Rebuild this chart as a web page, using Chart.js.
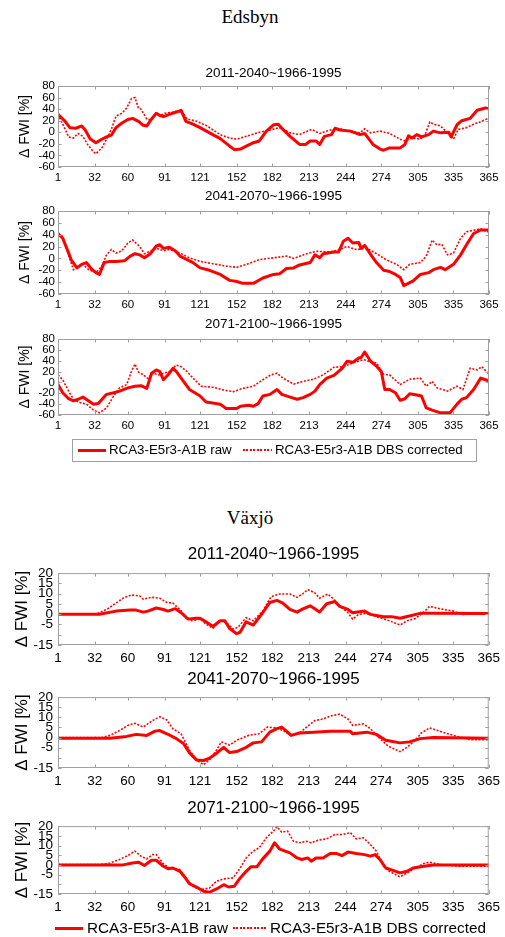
<!DOCTYPE html>
<html><head><meta charset="utf-8">
<script src="https://cdn.jsdelivr.net/npm/chart.js@4.4.0/dist/chart.umd.min.js"></script>
<style>
body{margin:0;background:#fff;}
#wrap{position:relative;width:505px;height:937px;overflow:hidden;font-family:"Liberation Sans",Arial,sans-serif;color:#000;}
.main{position:absolute;left:0;width:500px;height:24px;line-height:24px;text-align:center;font-family:"Liberation Serif","Times New Roman",serif;font-size:19px;}
.ptitle{position:absolute;left:58px;width:431px;text-align:center;white-space:nowrap;}
canvas{position:absolute;left:0;}
.txt{position:absolute;white-space:nowrap;}
.solid{position:absolute;height:3px;background:#ff0000;}
.dot{position:absolute;height:1.6px;background:repeating-linear-gradient(to right,#ff0000 0 2px,transparent 2px 3.5px);}
.box{position:absolute;border:1px solid #a0a0a0;}
</style></head>
<body><div id="wrap">
<div class="main" style="top:5px">Edsbyn</div>
<div class="main" style="top:506px">Växjö</div>
</div>
<script>
// ---------- data ----------
const dayTicks = [1,32,60,91,121,152,182,213,244,274,305,335,365];
const edsbynYTicks = [-60,-40,-20,0,20,40,60,80];
const edsbynYLabels = ['-60','-40','-20','0','20','40','60','80'];
const vaxjoYTicks = [-15,-10,-5,0,5,10,15,20];
const vaxjoYLabels = ['-15','','-5','0','5','10','15','20'];
const periodTitles = ['2011-2040~1966-1995','2041-2070~1966-1995','2071-2100~1966-1995'];
const seriesNames = ['RCA3-E5r3-A1B raw','RCA3-E5r3-A1B DBS corrected'];

const edsbyn1Raw = [[1,31],[7,19],[11,8],[16,7],[21,11],[24,4],[28,-11],[33,-18],[38,-12],[42,-8],[46,-5],[50,8],[55,16],[60,22],[64,24],[69,19],[73,12],[76,11],[80,23],[84,33],[87,29],[90,27],[95,31],[101,35],[105,38],[109,19],[114,15],[121,8],[129,-1],[138,-11],[146,-24],[150,-30],[155,-29],[160,-24],[166,-18],[171,-15],[177,2],[183,13],[187,14],[191,5],[197,-7],[205,-21],[210,-21],[214,-15],[219,-15],[222,-21],[226,-7],[232,-4],[235,7],[239,4],[248,2],[256,-4],[260,-2],[263,-10],[267,-21],[273,-29],[276,-31],[281,-27],[290,-27],[294,-21],[297,-6],[300,-10],[304,-4],[308,-8],[314,-4],[318,2],[324,-1],[331,0],[333,-8],[338,13],[342,20],[349,24],[355,38],[362,42],[365,40]];
const edsbyn1Cor = [[1,31],[5,14],[10,-8],[14,-10],[18,-2],[22,-7],[26,-21],[31,-34],[33,-37],[38,-27],[42,-12],[46,5],[50,28],[55,33],[59,42],[63,58],[66,60],[69,41],[71,40],[76,23],[80,21],[84,33],[87,28],[91,33],[98,35],[105,38],[110,23],[118,19],[126,12],[138,-4],[146,-10],[152,-12],[160,-7],[171,0],[180,4],[188,8],[197,-1],[205,-4],[215,5],[222,-2],[231,4],[239,6],[248,2],[256,-1],[260,6],[265,-1],[273,2],[281,-2],[290,-12],[294,-15],[300,-10],[307,-12],[311,-4],[315,18],[318,14],[324,11],[330,-1],[335,-12],[339,5],[346,8],[352,14],[359,19],[365,25]];

const edsbyn2Raw = [[1,42],[5,34],[10,9],[12,-2],[17,-16],[21,-10],[25,-7],[29,-17],[33,-24],[36,-27],[40,-7],[45,-5],[50,-5],[57,-4],[62,4],[66,8],[70,6],[74,1],[79,8],[84,21],[87,23],[90,17],[95,19],[100,13],[104,4],[110,-2],[115,-7],[121,-16],[129,-20],[138,-27],[146,-37],[152,-39],[157,-42],[166,-42],[174,-33],[183,-27],[188,-26],[194,-17],[200,-16],[205,-11],[214,-7],[218,6],[222,1],[225,8],[234,11],[238,11],[242,29],[246,34],[250,26],[255,27],[257,17],[260,22],[266,4],[270,-7],[276,-20],[281,-22],[286,-27],[290,-32],[293,-46],[296,-43],[301,-38],[307,-27],[314,-24],[318,-19],[324,-15],[328,-19],[335,-10],[341,6],[346,23],[352,42],[358,48],[365,48]];
const edsbyn2Cor = [[1,42],[5,37],[10,6],[14,-19],[18,-13],[22,-10],[27,-19],[33,-24],[38,-13],[42,6],[46,15],[50,9],[55,13],[60,26],[64,31],[70,20],[74,8],[80,13],[84,17],[90,13],[95,15],[104,9],[112,1],[121,-5],[132,-9],[143,-13],[152,-15],[160,-10],[171,-2],[183,1],[194,4],[200,0],[211,8],[219,12],[231,11],[239,15],[245,20],[253,15],[262,17],[270,8],[278,-2],[287,-10],[293,-19],[298,-10],[307,-7],[312,4],[317,31],[321,23],[325,24],[330,6],[335,9],[341,34],[346,45],[358,50],[365,44]];

const edsbyn3Raw = [[1,-4],[5,-19],[10,-30],[14,-34],[18,-31],[22,-27],[26,-33],[31,-40],[35,-39],[42,-22],[48,-19],[53,-16],[60,-10],[66,-7],[71,-6],[76,-11],[80,17],[84,23],[87,20],[90,5],[94,14],[98,26],[101,20],[107,2],[112,-13],[121,-25],[126,-36],[138,-40],[143,-48],[152,-48],[155,-44],[162,-42],[166,-44],[170,-39],[174,-25],[180,-22],[186,-13],[190,-22],[197,-27],[203,-31],[208,-28],[214,-22],[218,-16],[222,-4],[228,8],[234,13],[241,26],[245,39],[250,37],[255,45],[257,46],[260,56],[265,39],[270,30],[274,20],[277,-13],[281,-13],[286,-19],[290,-33],[294,-30],[298,-21],[304,-23],[308,-25],[312,-47],[317,-51],[324,-56],[332,-56],[338,-40],[342,-31],[346,-28],[352,-13],[358,8],[362,5],[365,3]];
const edsbyn3Cor = [[1,14],[5,5],[10,-16],[14,-31],[19,-37],[25,-40],[31,-51],[36,-56],[42,-47],[48,-25],[53,-10],[59,-4],[63,20],[66,34],[69,19],[73,14],[77,7],[81,17],[86,14],[90,17],[95,20],[101,32],[105,29],[110,20],[115,8],[122,-7],[132,-9],[141,-14],[149,-17],[157,-11],[166,-7],[174,5],[181,14],[186,17],[191,8],[200,-3],[208,2],[217,6],[225,14],[234,28],[242,29],[250,36],[259,42],[265,38],[270,36],[276,15],[281,14],[290,-4],[298,6],[307,8],[312,-7],[317,2],[321,-10],[330,-16],[338,-7],[343,-13],[349,26],[355,23],[359,29],[365,15]];

const vaxjo1Raw = [[1,0],[36,0],[50,1.5],[62,2],[67,2],[73,1],[77,1.5],[84,3],[90,2.3],[94,1.5],[100,2.7],[105,0.7],[111,-2.4],[117,-2],[121,-2],[126,-3.7],[132,-6],[138,-3.2],[142,-3.2],[146,-7],[152,-9.5],[155,-8.7],[160,-3.7],[166,-5.3],[174,0.7],[180,5.7],[186,6.7],[191,5.4],[197,2.3],[203,1],[208,2.6],[214,4.1],[218,2.6],[222,1],[228,5.1],[235,6.2],[239,3.8],[246,2.3],[250,0.7],[260,1.5],[265,-0.1],[276,-1.2],[283,-1.2],[290,-2],[297,-1],[307,0.4],[318,0.4],[365,0.3]];
const vaxjo1Cor = [[1,0],[33,0],[42,2.3],[49,5],[56,7.8],[63,9.3],[70,8.9],[73,7.3],[80,8.2],[87,7.8],[93,5.7],[98,5.4],[104,2.3],[110,-1.7],[114,-3.2],[121,-2.4],[126,-4.8],[132,-6.8],[138,-3.2],[143,-4],[149,-7.2],[153,-6.4],[160,-1.7],[166,-3.2],[174,1.5],[181,8.5],[188,9.8],[197,9.8],[203,8.2],[208,10],[212,12],[218,10.4],[222,7.8],[229,9.8],[234,7.3],[239,4.1],[246,0.7],[250,-2.4],[255,-0.1],[262,0.4],[270,-1.2],[281,-3.2],[290,-5.3],[296,-3.2],[303,-2.1],[310,1],[315,3.8],[324,2.6],[335,1.5],[343,-0.1],[365,0.3]];

const vaxjo2Raw = [[1,-0.3],[45,-0.3],[59,0.6],[67,1.6],[76,1.1],[83,3.2],[87,3.5],[93,1.9],[101,-0.5],[107,-2.9],[112,-7.4],[118,-11],[124,-11.3],[129,-10.2],[135,-7.7],[141,-4.8],[146,-7.4],[152,-6.9],[160,-4.8],[166,-2.6],[173,-2.1],[180,2.7],[186,4.4],[190,5.2],[194,3.2],[198,1.1],[205,2.3],[217,2.7],[231,3.2],[248,3.2],[250,1.9],[262,2.7],[270,1.6],[278,-1.3],[290,-2.6],[298,-2.1],[307,-0.5],[318,0],[365,-0.3]];
const vaxjo2Cor = [[1,0],[38,0],[45,1.1],[53,3.5],[60,6],[66,7.1],[73,5.2],[80,8.1],[87,10.3],[93,8.7],[98,4.4],[105,1.9],[112,-6.1],[118,-11],[124,-13.4],[129,-11],[135,-6.1],[139,-2.1],[146,-3.7],[152,-1.3],[162,1.1],[171,1.9],[178,5.2],[186,4.8],[191,3.5],[198,1.1],[205,2.3],[211,5.2],[218,8.4],[225,9.2],[232,10.8],[239,11.6],[246,9.2],[250,6],[259,6.8],[265,4.4],[273,-0.5],[280,-4.2],[290,-6.9],[296,-4.8],[303,-1.3],[308,2.3],[315,4.8],[326,2.7],[338,0.6],[349,-1],[365,-1]];

const vaxjo3Raw = [[1,0],[56,0],[64,1],[69,1.4],[74,-0.3],[80,2.4],[84,2.4],[90,-0.7],[94,-2],[98,-1.6],[104,-3.3],[108,-6.2],[112,-9.7],[118,-11.4],[124,-13.6],[129,-14.1],[135,-12.4],[141,-10.2],[145,-11.4],[150,-11],[155,-6.7],[160,-3.3],[164,-1],[169,-1],[174,3.1],[180,7.1],[184,11.4],[188,8.3],[193,7.1],[197,6.2],[203,3.6],[207,2.8],[212,3.6],[215,1.9],[219,3.6],[225,3.6],[231,5.9],[236,5.9],[241,4.8],[246,6.6],[253,5.9],[260,5.3],[265,4.5],[269,5.3],[273,2.8],[278,-1.6],[284,-2.8],[290,-4.1],[296,-3.3],[301,-1.6],[310,-0.7],[318,0],[365,0]];
const vaxjo3Cor = [[1,0.2],[36,0.2],[45,1],[53,2.8],[60,4.8],[66,7.1],[71,4.5],[76,3.1],[81,5.3],[84,5.3],[90,0.7],[95,-1.6],[104,-2.4],[110,-7.6],[115,-11],[121,-12.8],[129,-11.9],[135,-8.4],[141,-7.2],[149,-6.7],[155,-1.6],[160,3.6],[166,7.1],[171,8.8],[177,14],[183,17.4],[186,19.7],[190,16.9],[195,17.4],[200,12.2],[205,11.4],[211,12.2],[215,11.4],[221,12.8],[228,13.4],[235,15.7],[242,15.7],[248,16.6],[253,13.4],[259,14],[265,10.5],[270,7.1],[276,-0.7],[281,-3.3],[290,-6.2],[296,-4.1],[303,-1.6],[310,0.7],[315,1.4],[324,0.2],[340,-0.7],[365,-0.7]];

// ---------- layout ----------
const wrap = document.getElementById('wrap');
const PL = 58, PR = 489, W = 505;

const framePlugin = {
  id: 'frame',
  afterDraw(chart) {
    const {ctx, chartArea: a, scales: {x, y}} = chart;
    ctx.save();
    ctx.strokeStyle = '#a0a0a0';
    ctx.lineWidth = 1;
    ctx.strokeRect(a.left + 0.5, a.top + 0.5, a.right - a.left - 1, a.bottom - a.top - 1);
    const L = 3.5;
    ctx.beginPath();
    x.ticks.forEach(t => {
      const px = Math.round(x.getPixelForValue(t.value)) + 0.5;
      ctx.moveTo(px, a.top); ctx.lineTo(px, a.top + L);
      ctx.moveTo(px, a.bottom); ctx.lineTo(px, a.bottom - L);
    });
    y.ticks.forEach(t => {
      const py = Math.round(y.getPixelForValue(t.value)) + 0.5;
      ctx.moveTo(a.left, py); ctx.lineTo(a.left + L, py);
      ctx.moveTo(a.right, py); ctx.lineTo(a.right - L, py);
    });
    ctx.stroke();
    ctx.restore();
  }
};

function addDiv(cls, style, text) {
  const d = document.createElement('div');
  d.className = cls;
  Object.assign(d.style, style);
  if (text !== undefined) d.textContent = text;
  wrap.appendChild(d);
  return d;
}

function makePanel(p) {
  const padTop = 12, xAxisH = 26;
  const h = p.bottom - p.top;
  const cv = document.createElement('canvas');
  cv.width = W; cv.height = padTop + h + xAxisH;
  cv.style.top = (p.top - padTop) + 'px';
  cv.style.width = W + 'px'; cv.style.height = cv.height + 'px';
  wrap.appendChild(cv);
  // panel title
  addDiv('ptitle', {top: (p.titleY - 12) + 'px', height: '24px', lineHeight: '24px', fontSize: p.titleSize + 'px'}, p.title);
  new Chart(cv, {
    type: 'line',
    data: {
      datasets: [
        {label: seriesNames[0], data: p.raw.map(([x, y]) => ({x, y})), borderColor: '#ff0000', borderWidth: 3, pointRadius: 0, tension: 0, borderJoinStyle: 'round', borderCapStyle: 'round'},
        {label: seriesNames[1], data: p.cor.map(([x, y]) => ({x, y})), borderColor: '#ff0000', borderWidth: 1.6, borderDash: [2, 1.6], pointRadius: 0, tension: 0}
      ]
    },
    options: {
      responsive: false, animation: false, devicePixelRatio: 1,
      layout: {padding: {top: padTop, right: W - PR, left: 0, bottom: 0}},
      plugins: {legend: {display: false}, tooltip: {enabled: false}},
      scales: {
        x: {
          type: 'linear', min: 1, max: 365,
          grid: {display: false, drawTicks: false}, border: {display: false},
          afterBuildTicks: s => { s.ticks = dayTicks.map(v => ({value: v})); },
          afterFit: s => { s.height = xAxisH; },
          ticks: {autoSkip: false, maxRotation: 0, padding: p.xPad, color: '#000',
                  font: {family: 'Liberation Sans', size: p.tickSize},
                  callback: v => String(v)}
        },
        y: {
          type: 'linear', min: p.yTicks[0], max: p.yTicks[p.yTicks.length - 1],
          grid: {display: false, drawTicks: false}, border: {display: false},
          afterBuildTicks: s => { s.ticks = p.yTicks.map(v => ({value: v})); },
          afterFit: s => { s.width = PL; },
          ticks: {autoSkip: false, padding: p.yPad, color: '#000',
                  font: {family: 'Liberation Sans', size: p.tickSize},
                  callback: v => p.yLabels[p.yTicks.indexOf(v)]},
          title: {display: true, text: 'Δ FWI [%]', color: '#000',
                  font: {family: 'Liberation Sans', size: p.ylabSize},
                  padding: {top: p.ylabPad, bottom: 0}}
        }
      }
    },
    plugins: [framePlugin]
  });
}

const eds = {yTicks: edsbynYTicks, yLabels: edsbynYLabels, tickSize: 11.5, titleSize: 13.5, ylabSize: 14, ylabPad: 16.5, xPad: 4, yPad: 3};
const vax = {yTicks: vaxjoYTicks, yLabels: vaxjoYLabels, tickSize: 13.5, titleSize: 17, ylabSize: 17, ylabPad: 12, xPad: 5, yPad: 5};

makePanel({...eds, top: 86, bottom: 167, titleY: 72.5, title: periodTitles[0], raw: edsbyn1Raw, cor: edsbyn1Cor});
makePanel({...eds, top: 211, bottom: 294, titleY: 196, title: periodTitles[1], raw: edsbyn2Raw, cor: edsbyn2Cor});
makePanel({...eds, top: 339, bottom: 415, titleY: 324, title: periodTitles[2], raw: edsbyn3Raw, cor: edsbyn3Cor});
makePanel({...vax, top: 572, bottom: 645, titleY: 554, title: periodTitles[0], raw: vaxjo1Raw, cor: vaxjo1Cor});
makePanel({...vax, top: 696, bottom: 768, titleY: 679, title: periodTitles[1], raw: vaxjo2Raw, cor: vaxjo2Cor});
makePanel({...vax, top: 825, bottom: 894, titleY: 807.5, title: periodTitles[2], raw: vaxjo3Raw, cor: vaxjo3Cor});

// ---------- legends ----------
addDiv('box', {left: '72px', top: '439px', width: '403px', height: '21px'});
addDiv('solid', {left: '78px', top: '448.5px', width: '28px'});
addDiv('txt', {left: '109px', top: '440px', height: '20px', lineHeight: '20px', fontSize: '13.3px'}, seriesNames[0]);
addDiv('dot', {left: '243px', top: '449px', width: '29px'});
addDiv('txt', {left: '275px', top: '440px', height: '20px', lineHeight: '20px', fontSize: '13.3px'}, seriesNames[1]);

addDiv('solid', {left: '55px', top: '926.5px', width: '28px'});
addDiv('txt', {left: '87px', top: '917px', height: '22px', lineHeight: '22px', fontSize: '15.3px'}, seriesNames[0]);
addDiv('dot', {left: '233px', top: '927px', width: '34px'});
addDiv('txt', {left: '270px', top: '917px', height: '22px', lineHeight: '22px', fontSize: '15.3px'}, seriesNames[1]);
</script>
</body></html>
